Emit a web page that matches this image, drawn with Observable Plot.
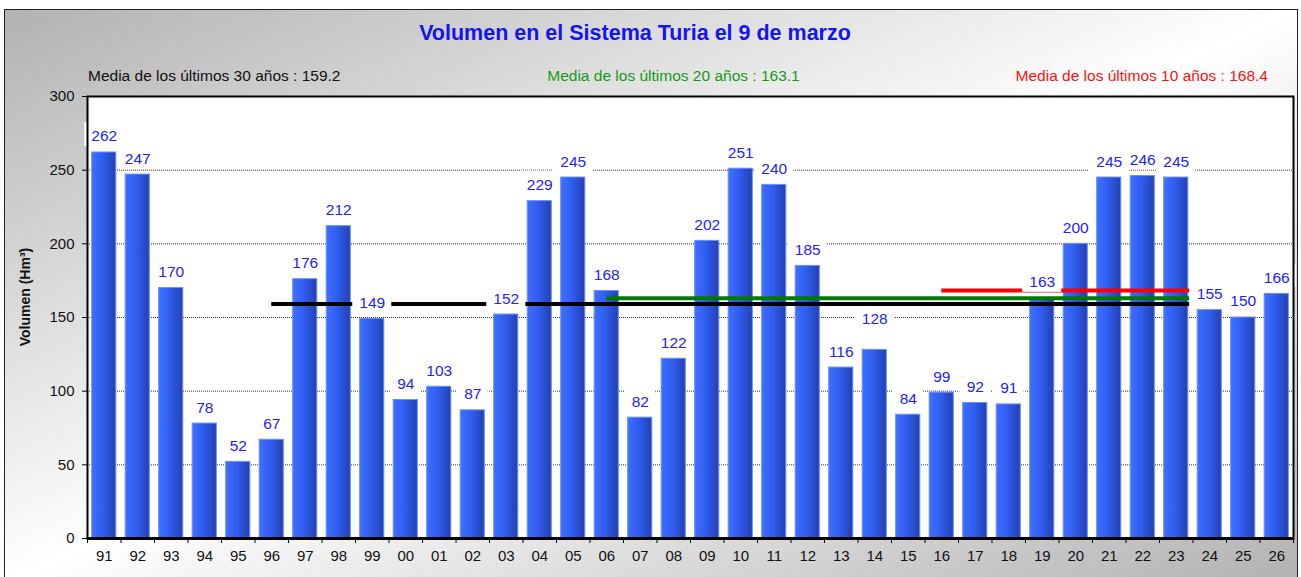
<!DOCTYPE html>
<html>
<head>
<meta charset="utf-8">
<script src="https://cdn.jsdelivr.net/npm/d3@7"></script>
<script src="https://cdn.jsdelivr.net/npm/@observablehq/plot@0.6"></script>
<style>
  body { margin: 0; background: #fff; font-family: "Liberation Sans", Arial, sans-serif; }
  #wrap { position: relative; width: 1301px; height: 577px; overflow: hidden; }
  #bg { position: absolute; left: 4px; top: 9px; width: 1292px; height: 572px; border: 1px solid #222;
        background: linear-gradient(to bottom right, #b2b2b2 0%, #ffffff 50%, #b2b2b2 100%); }
  .txt { position: absolute; white-space: nowrap; }
  #title { left: 0; width: 1270px; top: 20px; text-align: center; font-size: 21.5px; font-weight: bold; color: #1414f0; line-height: 26px; }
  .sub { top: 67px; font-size: 15.5px; line-height: 18px; }
  #ylab { left: 25px; top: 297px; font-size: 14px; font-weight: bold; color: #111; transform: translate(-50%, -50%) rotate(-90deg); }
  #chart { position: absolute; left: 0; top: 80px; }
</style>
</head>
<body>
<div id="wrap">
  <div id="bg"></div>
  <div id="title" class="txt"></div>
  <div id="s30" class="txt sub"></div>
  <div id="s20" class="txt sub"></div>
  <div id="s10" class="txt sub"></div>
  <div id="ylab" class="txt"></div>
  <div id="chart"></div>
</div>
<script>
// ---- data ----
const title = "Volumen en el Sistema Turia el 9 de marzo";
const yLabel = "Volumen (Hm³)";
const categories = ["91","92","93","94","95","96","97","98","99","00","01","02","03","04","05","06","07","08","09","10","11","12","13","14","15","16","17","18","19","20","21","22","23","24","25","26"];
const volumes = [262,247,170,78,52,67,176,212,149,94,103,87,152,229,245,168,82,122,202,251,240,185,116,128,84,99,92,91,163,200,245,246,245,155,150,166];
const meanYears = [30, 20, 10];
const meanValues = [159.2, 163.1, 168.4];
const meanStart = ["96", "06", "16"];
const meanEnd = "23";
const yTicks = [0, 50, 100, 150, 200, 250, 300];
const liftedLabels = ["14"];

// ---- text ----
document.getElementById("title").textContent = title;
document.getElementById("ylab").textContent = yLabel;
const meanText = (k) => `Media de los últimos ${meanYears[k]} años : ${meanValues[k].toFixed(1)}`;
const s30 = document.getElementById("s30"); s30.textContent = meanText(0); s30.style.left = "88px"; s30.style.color = "#111";
const s20 = document.getElementById("s20"); s20.textContent = meanText(1); s20.style.left = "0px"; s20.style.width = "1347px"; s20.style.textAlign = "center"; s20.style.color = "#169a16";
const s10 = document.getElementById("s10"); s10.textContent = meanText(2); s10.style.right = "33px"; s10.style.textAlign = "right"; s10.style.color = "#ff1010";

// ---- chart ----
const data = categories.map((c, i) => ({cat: c, i, v: volumes[i], lifted: liftedLabels.includes(c)}));
const idx = (c) => categories.indexOf(c);
const meanColors = ["#000000", "#007a00", "#ff0000"];
const font = "Liberation Sans, Arial, sans-serif";
const labelColor = "#2222ff";

function defs() {
  const d = d3.create("svg:defs");
  const g = d.append("linearGradient").attr("id", "barGrad").attr("x1", 0).attr("x2", 1).attr("y1", 0).attr("y2", 0);
  g.append("stop").attr("offset", "0%").attr("stop-color", "#3f6fff");
  g.append("stop").attr("offset", "45%").attr("stop-color", "#305ef0");
  g.append("stop").attr("offset", "100%").attr("stop-color", "#2340b0");
  return d.node();
}

function boxes(rows, lift, top) {
  const out = [];
  for (const len of [2, 3]) {
    const hw = (len * 8.35 + 14) / 2;
    out.push(Plot.rect(rows.filter(d => String(d.v).length === len), {
      x1: d => d.i + 0.5, x2: d => d.i + 0.5, y1: "v", y2: "v",
      fill: "white",
      insetLeft: -hw, insetRight: -hw, insetTop: -(top + lift), insetBottom: 6 + lift
    }));
  }
  return out;
}

const normalRows = data.filter(d => !d.lifted);
const liftedRows = data.filter(d => d.lifted);

const plot = Plot.plot({
  width: 1301,
  height: 490,
  marginTop: 16,
  marginBottom: 32,
  marginLeft: 87,
  marginRight: 8,
  style: {background: "transparent", fontFamily: font, color: "#111"},
  x: {type: "linear", domain: [0, categories.length], axis: null},
  y: {domain: [0, 300], axis: null},
  marks: [
    defs,
    Plot.frame({fill: "white", stroke: "none"}),
    Plot.ruleY([50, 100, 150, 200, 250], {stroke: "#333", strokeDasharray: "1,1", strokeWidth: 1}),
    Plot.rectY(data, {x1: d => d.i + 0.14, x2: d => d.i + 0.86, y: "v", fill: "url(#barGrad)", stroke: "#6a8fff", strokeWidth: 1}),
    ...meanValues.map((m, k) => Plot.ruleY([m], {
      x1: idx(meanStart[k]) + 0.5, x2: idx(meanEnd) + 0.9,
      stroke: meanColors[k], strokeWidth: 4
    })),
    ...boxes(normalRows, 0, 30),
    ...boxes(liftedRows, 15, 27),
    Plot.text(normalRows, {x: d => d.i + 0.5, y: "v", text: d => String(d.v), dy: -16, fill: labelColor, fontSize: 15.5}),
    Plot.text(liftedRows, {x: d => d.i + 0.5, y: "v", text: d => String(d.v), dy: -31, fill: labelColor, fontSize: 15.5}),
    Plot.frame({stroke: "#000", strokeWidth: 2}),
    Plot.ruleY([0], {stroke: "#000", strokeWidth: 3}),
    Plot.axisY({ticks: yTicks, tickSize: 5, tickPadding: 8, fontSize: 15, label: null, stroke: "#000"}),
    Plot.axisX({ticks: d3.range(categories.length + 1), tickFormat: () => "", tickSize: 5, label: null, stroke: "#000"}),
    Plot.axisX({ticks: categories.map((c, i) => i + 0.5), tickFormat: d => categories[Math.floor(d)], tickSize: 0, tickPadding: 12, fontSize: 15, label: null})
  ]
});
document.getElementById("chart").appendChild(plot);
</script>
</body>
</html>
